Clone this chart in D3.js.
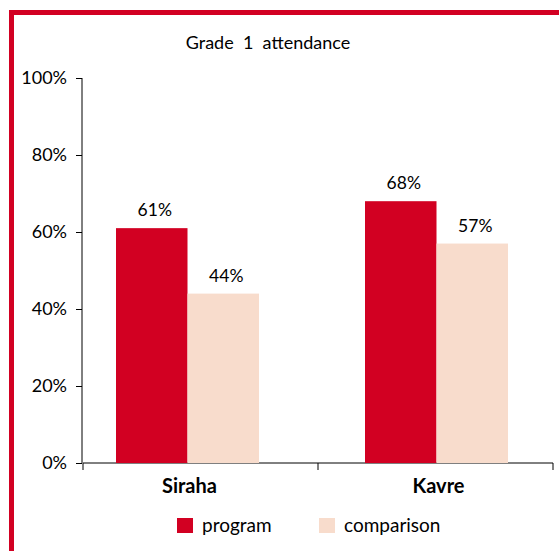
<!DOCTYPE html>
<html><head><meta charset="utf-8">
<script src="https://cdn.jsdelivr.net/npm/d3@7/dist/d3.min.js"></script>
<style>body{margin:0;background:#fff}svg{display:block;font-family:Lato,"Open Sans",sans-serif}</style>
</head><body><svg id="c" width="559" height="551"></svg>
<script>
const categories = ["Siraha", "Kavre"];
const seriesNames = ["program", "comparison"];
const program = [61, 68];
const comparison = [44, 57];
const yTicks = [0, 20, 40, 60, 80, 100];
const title = "Grade  1  attendance";

const colors = {program: "#D20022", comparison: "#F8DCCC"};
const svg = d3.select("#c");

// frame
svg.append("rect").attr("x", 11.5).attr("y", 12.5).attr("width", 600).attr("height", 600)
  .attr("fill", "none").attr("stroke", "#D20022").attr("stroke-width", 5);

const y = d3.scaleLinear().domain([0, 100]).range([463, 78]);
const xb = d3.scaleBand().domain(categories).range([63, 561]);
const xi = d3.scaleBand().domain(seriesNames).range([0, 143]);
const xAxisScale = d3.scaleLinear().domain([0, categories.length]).range([83, 553]);

svg.append("text").attr("x", 268).attr("y", 49).attr("text-anchor", "middle")
  .attr("font-size", 18).attr("fill", "#000").style("white-space", "pre").text(title);

// y axis
const ya = svg.append("g").attr("transform", "translate(82,0)")
  .call(d3.axisLeft(y).tickValues(yTicks).tickSize(6).tickPadding(9).tickFormat(d => d + "%"));
ya.select(".domain").attr("stroke", "#000").attr("d", "M0," + y(100) + "V" + y(0));
ya.selectAll("text").attr("font-size", 18).attr("fill", "#000").attr("font-family", "Lato,sans-serif");

// x axis
const xa = svg.append("g").attr("transform", "translate(0,463)");
xa.append("line").attr("x1", xAxisScale(0)).attr("x2", xAxisScale(categories.length)).attr("stroke", "#000");
xa.selectAll(".t").data(d3.range(categories.length + 1)).join("line")
  .attr("x1", d => xAxisScale(d)).attr("x2", d => xAxisScale(d)).attr("y1", 0).attr("y2", 7).attr("stroke", "#000");

const data = categories.map((c, i) => ({cat: c, vals: [
  {s: "program", v: program[i]}, {s: "comparison", v: comparison[i]}]}));

const g = svg.selectAll(".grp").data(data).join("g")
  .attr("transform", d => `translate(${xb(d.cat) + xb.bandwidth() / 2 - 71.5},0)`);
g.selectAll("rect").data(d => d.vals).join("rect")
  .attr("x", d => xi(d.s)).attr("width", xi.bandwidth())
  .attr("y", d => y(d.v)).attr("height", d => y(0) - y(d.v))
  .attr("fill", d => colors[d.s]);
g.selectAll(".lbl").data(d => d.vals).join("text")
  .attr("x", d => xi(d.s) + xi.bandwidth() / 2 + 3).attr("y", d => y(d.v) - 12)
  .attr("text-anchor", "middle").attr("font-size", 17.5).attr("fill", "#000")
  .text(d => d.v + "%");

svg.selectAll(".cat").data(categories).join("text")
  .attr("x", d => xb(d) + xb.bandwidth() / 2 + 2).attr("y", 493)
  .attr("text-anchor", "middle").attr("font-size", 20).attr("font-weight", "bold").attr("fill", "#000")
  .text(d => d);

// legend
const legX = [177, 319];
const lg = svg.selectAll(".leg").data(seriesNames).join("g")
  .attr("transform", (d, i) => `translate(${legX[i]},518)`);
lg.append("rect").attr("width", 16).attr("height", 15).attr("fill", d => colors[d]);
lg.append("text").attr("x", 25).attr("y", 14).attr("font-size", 19).attr("fill", "#000").text(d => d);
</script></body></html>
